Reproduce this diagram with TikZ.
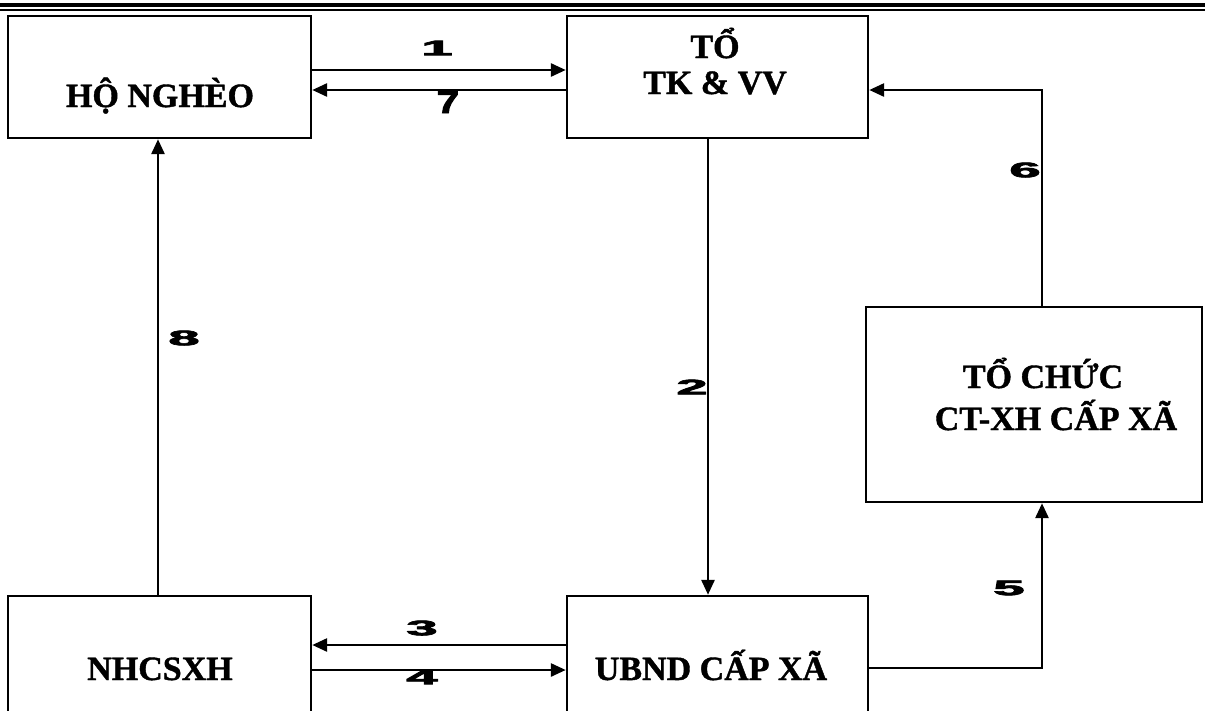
\documentclass[tikz,border=0pt]{standalone}
\usepackage{fontspec}
\setmainfont{Liberation Serif}[BoldFeatures={FakeBold=1.2}]
\newfontfamily\numfont{Liberation Sans}[BoldFeatures={FakeBold=3}]
\usetikzlibrary{arrows.meta,positioning}

\begin{document}
\begin{tikzpicture}[
  x=1pt, y=-1pt,
  box/.style={draw, line width=2.4pt, inner sep=0pt},
  txt/.style={font=\fontsize{34}{38}\selectfont\bfseries, align=center, anchor=base, inner sep=0pt},
  num/.style={font=\fontsize{20}{20}\selectfont\numfont\bfseries, inner sep=0pt},
  arr/.style={-{Triangle[length=15pt, width=13pt]}, line width=2.8pt}
]
\clip (0,0) rectangle (1205,710);
\fill[white] (0,0) rectangle (1205,710);
% double rule at the top
\draw[line width=4.2pt] (0,5) -- (1205,5);
\draw[line width=1.8pt] (0,9.6) -- (1205,9.6);

% boxes
\node[box, minimum width=303pt, minimum height=122pt] (hn) at (159.5,77) {};
\node[box, minimum width=301pt, minimum height=122pt] (to) at (717.5,77) {};
\node[box, minimum width=336pt, minimum height=195pt] (tc) at (1034,404.5) {};
\node[box, minimum width=303pt, minimum height=120pt] (nh) at (159.5,656) {};
\node[box, minimum width=301pt, minimum height=120pt] (ub) at (717.5,656) {};

% texts
\node[txt] (hnT) at (160,107) {HỘ NGHÈO};
\node[txt] (toA) at (715,58) {TỔ};
\node[txt] (toB) at (715,94) {TK \& VV};
\node[txt] (tcA) at (1043,388) {TỔ CHỨC};
\node[txt] (tcB) at (1056,430) {CT-XH CẤP XÃ};
\node[txt] (nhT) at (160,680) {NHCSXH};
\node[txt] (ubT) at (711,680) {UBND CẤP XÃ};

% connectors
\draw[arr] (hn.east |- 0,70) -- (to.west |- 0,70);
\draw[arr] (to.west |- 0,90) -- (hn.east |- 0,90);
\draw[arr] (to.south -| 708,0) -- (ub.north -| 708,0);
\draw[arr] (ub.west |- 0,645) -- (nh.east |- 0,645);
\draw[arr] (nh.east |- 0,670) -- (ub.west |- 0,670);
\draw[arr] (ub.east |- 0,668) -| (tc.south -| 1042,0);
\draw[arr] (tc.north -| 1042,0) |- (to.east |- 0,90);
\draw[arr] (nh.north -| 158,0) -- (hn.south -| 158,0);

% step numbers
\node[num] (n1) at (437,48) {\scalebox{2.8}[1.05]{1}};
\node[num] (n7) at (448,102) {\scalebox{2.0}[1.6]{7}};
\node[num] (n2) at (692,387) {\scalebox{2.8}[1.05]{2}};
\node[num] (n3) at (422,628) {\scalebox{2.8}[1.05]{3}};
\node[num] (n4) at (422,677) {\scalebox{2.8}[1.05]{4}};
\node[num] (n5) at (1009,588) {\scalebox{2.8}[1.05]{5}};
\node[num] (n6) at (1025,170) {\scalebox{2.8}[1.05]{6}};
\node[num] (n8) at (184,338) {\scalebox{2.8}[1.05]{8}};
\end{tikzpicture}
\end{document}
